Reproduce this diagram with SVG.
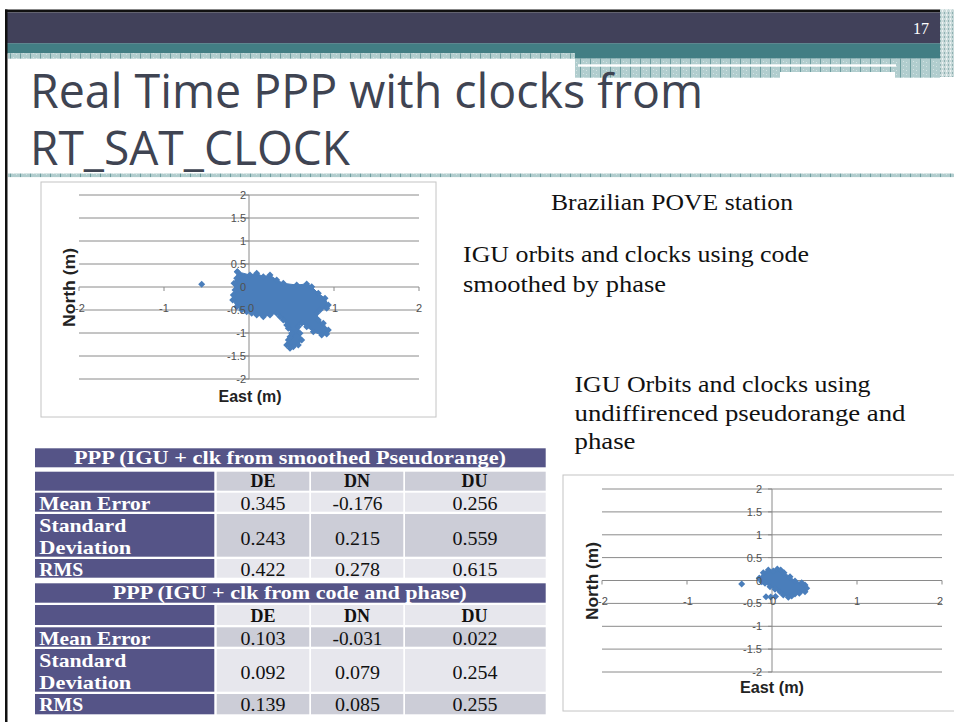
<svg xmlns="http://www.w3.org/2000/svg" width="954" height="722" viewBox="0 0 954 722">
<style>
.title{font-family:"Open Sans","DejaVu Sans",sans-serif;font-size:48px;fill:#3f4452}
.para{font-family:"Liberation Serif","DejaVu Serif",serif;font-size:23px;fill:#111}
.grid{stroke:#8a8a8a;stroke-width:1;fill:none}
.tick{font-family:"Liberation Sans",Arial,sans-serif;font-size:11px;fill:#505050}
.axt{font-family:"Liberation Sans",Arial,sans-serif;font-size:16px;font-weight:bold;fill:#222}
.blob{fill:#4a7ebb;stroke:#4a7ebb;stroke-width:1;marker-start:url(#dia);marker-mid:url(#dia);marker-end:url(#dia)}
.pur{fill:#555487}
.cd{fill:#cccdd7}
.cl{fill:#e7e7ed}
.th{font-family:"Liberation Serif","DejaVu Serif",serif;font-size:18px;font-weight:bold;fill:#fff}
.rl{font-family:"Liberation Serif","DejaVu Serif",serif;font-size:19px;font-weight:bold;fill:#fff}
.hd{font-family:"Liberation Serif","DejaVu Serif",serif;font-size:18px;font-weight:bold;fill:#111;text-anchor:middle}
.val{font-family:"Liberation Serif","DejaVu Serif",serif;font-size:18px;fill:#111;text-anchor:middle}
</style>
<defs>
<pattern id="hatch" width="10" height="4" patternUnits="userSpaceOnUse">
<rect width="10" height="4" fill="#b1cdce"/>
<rect x="0" y="0" width="1" height="4" fill="#6f9ea0"/>
<rect x="3" y="1" width="1" height="1" fill="#d3e3e3"/>
<rect x="6" y="2" width="1" height="1" fill="#d3e3e3"/>
</pattern>
<pattern id="hatch2" width="4" height="4" patternUnits="userSpaceOnUse">
<rect width="4" height="4" fill="#c9dada"/>
<rect x="0" y="0" width="1" height="2" fill="#8fb1b2"/>
<rect x="2" y="2" width="1" height="2" fill="#eef4f4"/>
</pattern>
<marker id="dia" markerUnits="userSpaceOnUse" markerWidth="8" markerHeight="8" refX="4" refY="4" viewBox="0 0 8 8" overflow="visible">
<path d="M4,0.5 L7.5,4 L4,7.5 L0.5,4 Z" fill="#4a7ebb"/>
</marker>
<path id="dmk" d="M0,-3.5 L3.5,0 L0,3.5 L-3.5,0 Z" fill="#4a7ebb"/>
</defs>
<rect width="954" height="722" fill="#fff"/>
<g id="header">
<rect x="5" y="9.5" width="935" height="3" fill="#111"/>
<rect x="5" y="12.5" width="935" height="31" fill="#41415a"/>
<rect x="5" y="43.3" width="935" height="10" fill="#427e84"/>
<rect x="575" y="53" width="365" height="5.7" fill="#427e84"/>
<rect x="8" y="53.3" width="567" height="5.4" fill="url(#hatch)"/>
<rect x="575" y="58.7" width="365" height="13.3" fill="url(#hatch)"/>
<rect x="575" y="72" width="205" height="5.7" fill="url(#hatch)"/>
<rect x="895" y="72" width="45" height="5.7" fill="url(#hatch)"/>
<rect x="578" y="64.3" width="318" height="2.4" fill="#fff"/>
<rect x="940" y="9.5" width="14" height="67.5" fill="url(#hatch2)"/>
<text x="921" y="33.5" font-family="Liberation Serif,serif" font-size="16" fill="#fff" text-anchor="middle">17</text>
<rect x="5" y="9.5" width="2.5" height="712.5" fill="#111"/>
</g>
<g id="title">
<text class="title" x="30" y="108" textLength="673" lengthAdjust="spacingAndGlyphs">Real Time PPP with clocks from</text>
<text class="title" x="30" y="165" textLength="320" lengthAdjust="spacingAndGlyphs">RT_SAT_CLOCK</text>
<rect x="8" y="173.5" width="946" height="3.6" fill="url(#hatch)"/>
</g>
<g id="chart1">
<rect x="41" y="182" width="395" height="235" fill="#fff" stroke="#c4c4c4" stroke-width="1"/>
<path class="grid" d="M79,195H419M79,218H419M79,241H419M79,264H419M79,287H419M79,310H419M79,333H419M79,356H419M79,379H419M249,195V379M79,287V291M164,287V291M334,287V291M419,287V291M245,195H249M245,218H249M245,241H249M245,264H249M245,310H249M245,333H249M245,356H249M245,379H249"/>
<path class="blob" d="M237.3,271.7 L250,275 L256.7,273.3 L263.3,276.7 L270,275 L276.7,280 L283.3,283.3 L296.7,285 L306.7,284 L311.7,286.7 L318.3,293.3 L325,298.3 L328.3,305 L326.7,308.3 L320,310 L316.7,313.3 L318.3,320 L323.3,323.3 L328.3,330 L326.7,334 L321.7,335 L313.3,331.7 L306.7,326.7 L301.7,323.3 L298.3,326.7 L300,333.3 L301.7,340 L298.3,345 L293.3,346.7 L290,348.3 L286.7,345 L288.3,340 L290,336.7 L291.7,333.3 L288.3,328.3 L286.7,325 L283.3,320 L280,316.7 L276.7,313.3 L270,315 L263.3,316.7 L256.7,315 L251.7,313.3 L246.7,311.7 L241.7,310 L236.7,306.7 L232.7,300 L233.3,295 L235,290 L234,283.3 L236.7,278.3 Z"/>
<use href="#dmk" x="201.7" y="284.3"/>
<g class="tick" text-anchor="end">
<text x="246" y="199">2</text><text x="246" y="222">1.5</text><text x="246" y="245">1</text><text x="246" y="268">0.5</text><text x="246" y="291">0</text><text x="246" y="314">-0.5</text><text x="246" y="337">-1</text><text x="246" y="360">-1.5</text><text x="246" y="383">-2</text>
</g>
<g class="tick" text-anchor="middle">
<text x="80" y="312">-2</text><text x="164" y="312">-1</text><text x="251" y="312">0</text><text x="335" y="312">1</text><text x="419" y="312">2</text>
</g>
<text class="axt" x="250" y="401.7" text-anchor="middle" textLength="63" lengthAdjust="spacingAndGlyphs">East (m)</text>
<text class="axt" transform="translate(74.5,287.5) rotate(-90)" text-anchor="middle" textLength="79" lengthAdjust="spacingAndGlyphs">North (m)</text>
</g>
<g id="chart2">
<rect x="563" y="475" width="400" height="236" fill="#fff" stroke="#c4c4c4" stroke-width="1"/>
<path class="grid" d="M602,489H942M602,511.9H942M602,534.8H942M602,557.6H942M602,580.5H942M602,603.4H942M602,626.3H942M602,649.1H942M602,672H942M772,489V672M602,580.5V584.5M687,580.5V584.5M857,580.5V584.5M942,580.5V584.5M768,489H772M768,511.9H772M768,534.8H772M768,557.6H772M768,603.4H772M768,626.3H772M768,649.1H772M768,672H772"/>
<path class="blob" d="M759.3,578.3 L763.3,572.7 L768.3,570 L773.3,571 L777.3,569 L780.7,570 L784,572.7 L790,576.7 L795,581 L801.7,582.7 L805,585 L806.7,588.3 L805,591.7 L799.3,593.3 L795,594 L791.7,596 L788.3,597.3 L783.3,595 L780,591.7 L775,589.3 L770,586.7 L765,583.3 L761.7,581.7 Z"/>
<use href="#dmk" x="741.7" y="584"/>
<use href="#dmk" x="766" y="596.7"/>
<use href="#dmk" x="770.7" y="597"/>
<use href="#dmk" x="775.5" y="596.5"/>
<g class="tick" text-anchor="end">
<text x="762" y="493">2</text><text x="762" y="515.9">1.5</text><text x="762" y="538.8">1</text><text x="762" y="561.6">0.5</text><text x="762" y="584.5">0</text><text x="762" y="607.4">-0.5</text><text x="762" y="630.3">-1</text><text x="762" y="653.1">-1.5</text><text x="762" y="676">-2</text>
</g>
<g class="tick" text-anchor="middle">
<text x="603" y="605">-2</text><text x="688" y="605">-1</text><text x="773" y="605">0</text><text x="857" y="605">1</text><text x="940" y="605">2</text>
</g>
<text class="axt" x="772" y="693.3" text-anchor="middle" textLength="64" lengthAdjust="spacingAndGlyphs">East (m)</text>
<text class="axt" transform="translate(597.5,581) rotate(-90)" text-anchor="middle" textLength="78" lengthAdjust="spacingAndGlyphs">North (m)</text>
</g>
<g id="notes">
<text class="para" x="551" y="210" textLength="242" lengthAdjust="spacingAndGlyphs">Brazilian POVE station</text>
<text class="para" x="463" y="262" textLength="346" lengthAdjust="spacingAndGlyphs">IGU orbits and clocks using code</text>
<text class="para" x="463" y="292" textLength="203" lengthAdjust="spacingAndGlyphs">smoothed by phase</text>
<text class="para" x="574.5" y="392" textLength="296" lengthAdjust="spacingAndGlyphs">IGU Orbits and clocks using</text>
<text class="para" x="574.5" y="421" textLength="331" lengthAdjust="spacingAndGlyphs">undiffirenced pseudorange and</text>
<text class="para" x="574.5" y="449" textLength="61" lengthAdjust="spacingAndGlyphs">phase</text>
</g>
<g id="table1">
<rect class="pur" x="35" y="448.3" width="510.7" height="19"/>
<text class="th" x="290" y="464" text-anchor="middle" textLength="432" lengthAdjust="spacingAndGlyphs">PPP (IGU + clk from smoothed Pseudorange)</text>
<rect class="pur" x="35" y="471.7" width="179.3" height="19"/>
<rect class="cd" x="216.7" y="471.7" width="92.6" height="19"/>
<rect class="cd" x="311" y="471.7" width="92.3" height="19"/>
<rect class="cd" x="405" y="471.7" width="140.7" height="19"/>
<text class="hd" x="263" y="487.3">DE</text><text class="hd" x="357" y="487.3">DN</text><text class="hd" x="474.5" y="487.3">DU</text>
<rect class="pur" x="35" y="492.7" width="179.3" height="19"/>
<rect class="cl" x="216.7" y="492.7" width="92.6" height="19"/>
<rect class="cl" x="311" y="492.7" width="92.3" height="19"/>
<rect class="cl" x="405" y="492.7" width="140.7" height="19"/>
<text class="rl" x="39.3" y="510" textLength="111" lengthAdjust="spacingAndGlyphs">Mean Error</text>
<text class="val" x="263" y="510" textLength="45" lengthAdjust="spacingAndGlyphs">0.345</text><text class="val" x="357.5" y="510" textLength="50" lengthAdjust="spacingAndGlyphs">-0.176</text><text class="val" x="475" y="510" textLength="45" lengthAdjust="spacingAndGlyphs">0.256</text>
<rect class="pur" x="35" y="514" width="179.3" height="42.7"/>
<rect class="cd" x="216.7" y="514" width="92.6" height="42.7"/>
<rect class="cd" x="311" y="514" width="92.3" height="42.7"/>
<rect class="cd" x="405" y="514" width="140.7" height="42.7"/>
<text class="rl" x="39.3" y="532.3" textLength="87" lengthAdjust="spacingAndGlyphs">Standard</text>
<text class="rl" x="39.3" y="554.3" textLength="92" lengthAdjust="spacingAndGlyphs">Deviation</text>
<text class="val" x="263" y="545" textLength="45" lengthAdjust="spacingAndGlyphs">0.243</text><text class="val" x="357.5" y="545" textLength="45" lengthAdjust="spacingAndGlyphs">0.215</text><text class="val" x="475" y="545" textLength="45" lengthAdjust="spacingAndGlyphs">0.559</text>
<rect class="pur" x="35" y="559" width="179.3" height="18.7"/>
<rect class="cl" x="216.7" y="559" width="92.6" height="18.7"/>
<rect class="cl" x="311" y="559" width="92.3" height="18.7"/>
<rect class="cl" x="405" y="559" width="140.7" height="18.7"/>
<text class="rl" x="39.3" y="576" textLength="44" lengthAdjust="spacingAndGlyphs">RMS</text>
<text class="val" x="263" y="576" textLength="45" lengthAdjust="spacingAndGlyphs">0.422</text><text class="val" x="357.5" y="576" textLength="45" lengthAdjust="spacingAndGlyphs">0.278</text><text class="val" x="475" y="576" textLength="45" lengthAdjust="spacingAndGlyphs">0.615</text>
</g>
<g id="table2">
<rect class="pur" x="35" y="583.3" width="510.7" height="19.4"/>
<text class="th" x="289.7" y="599" text-anchor="middle" textLength="354" lengthAdjust="spacingAndGlyphs">PPP (IGU + clk from code and phase)</text>
<rect class="pur" x="35" y="605" width="179.3" height="20"/>
<rect class="cl" x="216.7" y="605" width="92.6" height="20"/>
<rect class="cl" x="311" y="605" width="92.3" height="20"/>
<rect class="cl" x="405" y="605" width="140.7" height="20"/>
<text class="hd" x="263" y="622.3">DE</text><text class="hd" x="357" y="622.3">DN</text><text class="hd" x="474.5" y="622.3">DU</text>
<rect class="pur" x="35" y="627.3" width="179.3" height="19.4"/>
<rect class="cd" x="216.7" y="627.3" width="92.6" height="19.4"/>
<rect class="cd" x="311" y="627.3" width="92.3" height="19.4"/>
<rect class="cd" x="405" y="627.3" width="140.7" height="19.4"/>
<text class="rl" x="39.3" y="644.5" textLength="111" lengthAdjust="spacingAndGlyphs">Mean Error</text>
<text class="val" x="263" y="644.5" textLength="45" lengthAdjust="spacingAndGlyphs">0.103</text><text class="val" x="357.5" y="644.5" textLength="50" lengthAdjust="spacingAndGlyphs">-0.031</text><text class="val" x="475" y="644.5" textLength="45" lengthAdjust="spacingAndGlyphs">0.022</text>
<rect class="pur" x="35" y="649" width="179.3" height="42.7"/>
<rect class="cl" x="216.7" y="649" width="92.6" height="42.7"/>
<rect class="cl" x="311" y="649" width="92.3" height="42.7"/>
<rect class="cl" x="405" y="649" width="140.7" height="42.7"/>
<text class="rl" x="39.3" y="667.3" textLength="87" lengthAdjust="spacingAndGlyphs">Standard</text>
<text class="rl" x="39.3" y="689.3" textLength="92" lengthAdjust="spacingAndGlyphs">Deviation</text>
<text class="val" x="263" y="679.3" textLength="45" lengthAdjust="spacingAndGlyphs">0.092</text><text class="val" x="357.5" y="679.3" textLength="45" lengthAdjust="spacingAndGlyphs">0.079</text><text class="val" x="475" y="679.3" textLength="45" lengthAdjust="spacingAndGlyphs">0.254</text>
<rect class="pur" x="35" y="694" width="179.3" height="20.3"/>
<rect class="cd" x="216.7" y="694" width="92.6" height="20.3"/>
<rect class="cd" x="311" y="694" width="92.3" height="20.3"/>
<rect class="cd" x="405" y="694" width="140.7" height="20.3"/>
<text class="rl" x="39.3" y="710.7" textLength="44" lengthAdjust="spacingAndGlyphs">RMS</text>
<text class="val" x="263" y="710.7" textLength="45" lengthAdjust="spacingAndGlyphs">0.139</text><text class="val" x="357.5" y="710.7" textLength="45" lengthAdjust="spacingAndGlyphs">0.085</text><text class="val" x="475" y="710.7" textLength="45" lengthAdjust="spacingAndGlyphs">0.255</text>
</g>
<g id="connectors"></g>
</svg>
